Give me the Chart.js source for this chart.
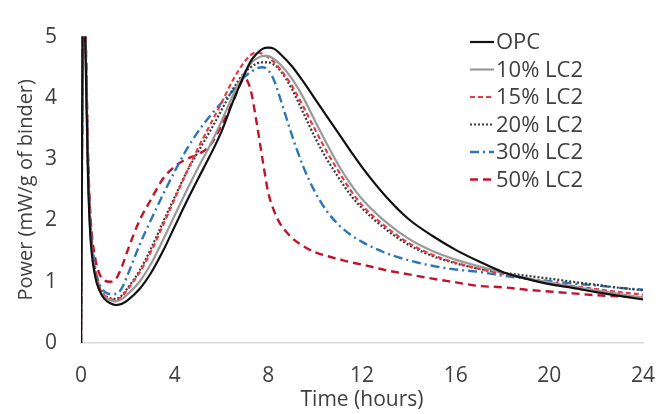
<!DOCTYPE html>
<html>
<head>
<meta charset="utf-8">
<script src="https://cdn.jsdelivr.net/npm/chart.js@4/dist/chart.umd.min.js"></script>
<style>
  html, body { margin: 0; padding: 0; background: #fff; }
  #wrap { width: 657px; height: 414px; }
</style>
</head>
<body>
<div id="wrap"><canvas id="heatFlow" width="657" height="414"></canvas></div>
<script>
// time grid shared by every mix (hours)
const hours = [0, 0.1, 0.2, 0.3, 0.4, 0.6, 0.8, 1.0, 1.25, 1.5, 1.75, 2, 2.5, 3, 3.5, 4, 4.5, 5, 5.5, 6, 6.5,
  7, 7.25, 7.5, 7.75, 8, 8.25, 8.5, 9, 9.5, 10, 10.5, 11, 11.5, 12, 13, 14, 15, 16, 17, 18, 19, 20, 21, 22, 23, 24];

// heat flow, mW/g of binder
const opc = [0, 6, 4.6, 2.7, 1.75, 1.1, 0.85, 0.72, 0.65, 0.62, 0.64, 0.7, 0.88, 1.15, 1.5, 1.9, 2.3, 2.68, 3.05, 3.45, 3.95,
  4.4, 4.6, 4.72, 4.8, 4.82, 4.8, 4.72, 4.52, 4.26, 3.98, 3.7, 3.42, 3.14, 2.87, 2.4, 2.02, 1.75, 1.52, 1.33, 1.16, 1.05, 0.96, 0.9, 0.83, 0.77, 0.71];
const lc2_10 = [0, 6, 4.7, 2.8, 1.8, 1.12, 0.85, 0.75, 0.7, 0.68, 0.72, 0.8, 1.0, 1.3, 1.68, 2.08, 2.48, 2.86, 3.22, 3.62, 4.05,
  4.42, 4.56, 4.64, 4.68, 4.68, 4.63, 4.55, 4.32, 4.0, 3.62, 3.25, 2.9, 2.6, 2.35, 1.98, 1.7, 1.5, 1.36, 1.25, 1.15, 1.06, 0.99, 0.92, 0.86, 0.8, 0.74];
const lc2_15 = [0, 6, 4.8, 2.9, 1.9, 1.2, 0.9, 0.78, 0.72, 0.7, 0.76, 0.88, 1.15, 1.5, 1.92, 2.35, 2.78, 3.18, 3.55, 3.92, 4.3,
  4.6, 4.7, 4.74, 4.72, 4.66, 4.58, 4.47, 4.2, 3.85, 3.48, 3.12, 2.8, 2.5, 2.25, 1.9, 1.63, 1.44, 1.31, 1.21, 1.13, 1.05, 0.99, 0.93, 0.88, 0.83, 0.79];
const lc2_20 = [0, 6, 4.8, 2.9, 1.9, 1.2, 0.9, 0.78, 0.73, 0.72, 0.78, 0.9, 1.18, 1.55, 1.97, 2.38, 2.78, 3.12, 3.45, 3.8, 4.15,
  4.42, 4.5, 4.56, 4.58, 4.58, 4.54, 4.45, 4.15, 3.75, 3.35, 3.0, 2.7, 2.42, 2.2, 1.86, 1.6, 1.42, 1.3, 1.21, 1.15, 1.1, 1.05, 1.0, 0.95, 0.9, 0.86];
const lc2_30 = [0, 6, 4.9, 3.0, 2.0, 1.25, 0.95, 0.84, 0.8, 0.8, 0.9, 1.12, 1.6, 2.02, 2.42, 2.8, 3.15, 3.45, 3.7, 3.92, 4.12,
  4.35, 4.42, 4.48, 4.5, 4.45, 4.28, 4.0, 3.4, 2.87, 2.46, 2.15, 1.93, 1.77, 1.65, 1.47, 1.35, 1.26, 1.2, 1.16, 1.1, 1.05, 1.01, 0.97, 0.94, 0.9, 0.87];
const lc2_50 = [0, 6, 5.0, 3.1, 2.1, 1.4, 1.12, 1.02, 1.0, 1.05, 1.25, 1.52, 2.0, 2.35, 2.68, 2.88, 3.0, 3.08, 3.22, 3.55, 3.95,
  4.32, 4.12, 3.6, 3.0, 2.45, 2.15, 1.95, 1.72, 1.58, 1.48, 1.42, 1.37, 1.32, 1.28, 1.19, 1.12, 1.05, 0.99, 0.93, 0.91, 0.87, 0.84, 0.81, 0.78, 0.76, 0.74];

const labels = ['OPC', '10% LC2', '15% LC2', '20% LC2', '30% LC2', '50% LC2'];
const xTicks = [0, 4, 8, 12, 16, 20, 24];

const textColor = '#404040';
const fontFamily = '"Open Sans", "DejaVu Sans", sans-serif';

function series(label, values, color, dash, width) {
  return {
    label: label,
    data: hours.map((h, i) => ({ x: h, y: values[i] })),
    borderColor: color,
    borderDash: dash,
    borderWidth: width,
    borderCapStyle: 'butt',
    pointRadius: 0,
    fill: false,
    cubicInterpolationMode: 'monotone'
  };
}

// legend drawn inside the plot, top right
const insideLegend = {
  id: 'insideLegend',
  afterDatasetsDraw(chart) {
    const ctx = chart.ctx;
    const x0 = chart.chartArea.right - 173;
    ctx.save();
    ctx.font = '22px ' + fontFamily;
    ctx.fillStyle = textColor;
    ctx.textBaseline = 'middle';
    ctx.textAlign = 'left';
    chart.data.datasets.forEach((ds, i) => {
      const y = 42 + i * 27.5;
      ctx.strokeStyle = ds.borderColor;
      ctx.lineWidth = ds.borderWidth;
      ctx.lineCap = 'butt';
      ctx.setLineDash(ds.borderDash || []);
      ctx.beginPath();
      ctx.moveTo(x0, y);
      ctx.lineTo(x0 + 24, y);
      ctx.stroke();
      ctx.setLineDash([]);
      ctx.fillText(ds.label, x0 + 26, y + 1);
    });
    ctx.restore();
  }
};

new Chart(document.getElementById('heatFlow'), {
  type: 'line',
  data: {
    datasets: [
      series(labels[0], opc, '#111111', [], 2.2),
      series(labels[1], lc2_10, '#9a9a9a', [], 2.2),
      series(labels[2], lc2_15, '#e23c46', [5, 3], 2.2),
      series(labels[3], lc2_20, '#3a3a3a', [2, 2], 2.2),
      series(labels[4], lc2_30, '#2e75b6', [9, 4, 2, 4], 2.4),
      series(labels[5], lc2_50, '#c0142c', [8, 5], 2.4)
    ]
  },
  options: {
    responsive: false,
    animation: false,
    events: [],
    layout: { padding: { left: 11, right: 14, top: 20, bottom: 0 } },
    plugins: {
      legend: { display: false },
      tooltip: { enabled: false }
    },
    scales: {
      x: {
        type: 'linear',
        min: 0,
        max: 24,
        afterBuildTicks: (scale) => { scale.ticks = xTicks.map(v => ({ value: v })); },
        afterFit: (scale) => { scale.height = 71; scale.paddingRight = 0; scale.paddingLeft = 0; },
        grid: { display: false, drawTicks: false },
        border: { display: true, color: '#d9d9d9', width: 1.5 },
        ticks: { color: textColor, font: { family: fontFamily, size: 21 }, padding: 20, maxRotation: 0 },
        title: { display: true, text: 'Time (hours)', color: textColor, font: { family: fontFamily, size: 21 }, padding: { top: 0, bottom: 1 } }
      },
      y: {
        min: 0,
        max: 5,
        afterFit: (scale) => { scale.width = 70; },
        grid: { display: false, drawTicks: false },
        border: { display: false },
        ticks: { stepSize: 1, color: textColor, font: { family: fontFamily, size: 21 }, padding: 24 },
        title: { display: true, text: 'Power (mW/g of binder)', color: textColor, font: { family: fontFamily, size: 20 }, padding: { top: 3, bottom: 0 } }
      }
    }
  },
  plugins: [insideLegend]
});
</script>
</body>
</html>
